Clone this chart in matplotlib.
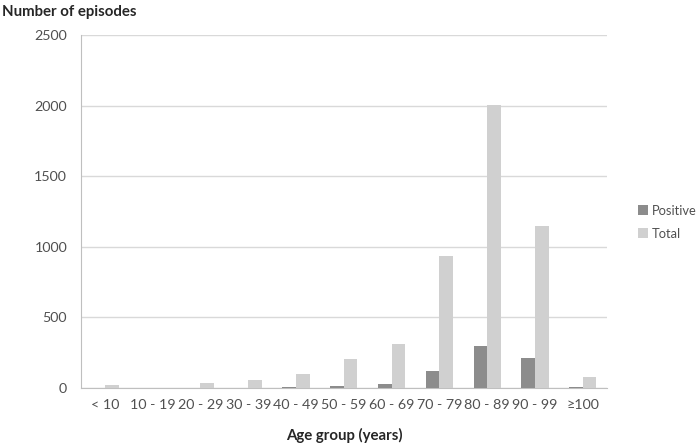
import numpy as np
import matplotlib
matplotlib.use("Agg")
import matplotlib.pyplot as plt

plt.rcParams['font.family'] = ['Lato', 'DejaVu Sans']

age_groups = ["< 10", "10 - 19", "20 - 29", "30 - 39", "40 - 49", "50 - 59",
              "60 - 69", "70 - 79", "80 - 89", "90 - 99", "\u2265100"]
positive = [0, 0, 0, 0, 8, 14, 26, 120, 300, 215, 7]
total = [20, 0, 33, 59, 99, 205, 312, 937, 2005, 1147, 75]

fig = plt.figure(figsize=(7, 4.43), dpi=100)
ax = fig.add_axes([0.1157, 0.1242, 0.751, 0.797])

x = np.arange(len(age_groups))
w = 0.285
ax.bar(x - w / 2, positive, w, color="#8c8c8c", label="Positive", zorder=3)
ax.bar(x + w / 2, total, w, color="#d0d0d0", label="Total", zorder=3)

ax.set_xlim(-0.5, len(age_groups) - 0.5)
ax.set_ylim(0, 2500)
ax.set_yticks(range(0, 2501, 500))
ax.set_xticks(x)
ax.set_xticklabels(age_groups)
ax.yaxis.grid(True, color="#d9d9d9", linewidth=1, zorder=0)
ax.tick_params(length=0, colors="#505050", labelsize=10.3, pad=8)
ax.tick_params(axis="y", pad=10)
for s in ["top", "right"]:
    ax.spines[s].set_visible(False)
ax.spines["left"].set_color("#bfbfbf")
ax.spines["bottom"].set_color("#bfbfbf")

ax.set_xlabel("Age group (years)", fontsize=10.8, fontweight="bold", color="#262626", labelpad=12)
fig.text(0.003, 0.972, "Number of episodes", fontsize=10.8, fontweight="bold",
         color="#262626", ha="left", va="center")

ax.legend(loc="center left", bbox_to_anchor=(1.06, 0.47), frameon=False,
          borderaxespad=0, borderpad=0,
          fontsize=9.3, handlelength=0.75, handleheight=0.75, handletextpad=0.3,
          labelspacing=0.85, labelcolor="#505050")

fig.savefig("out.png", dpi=100)
